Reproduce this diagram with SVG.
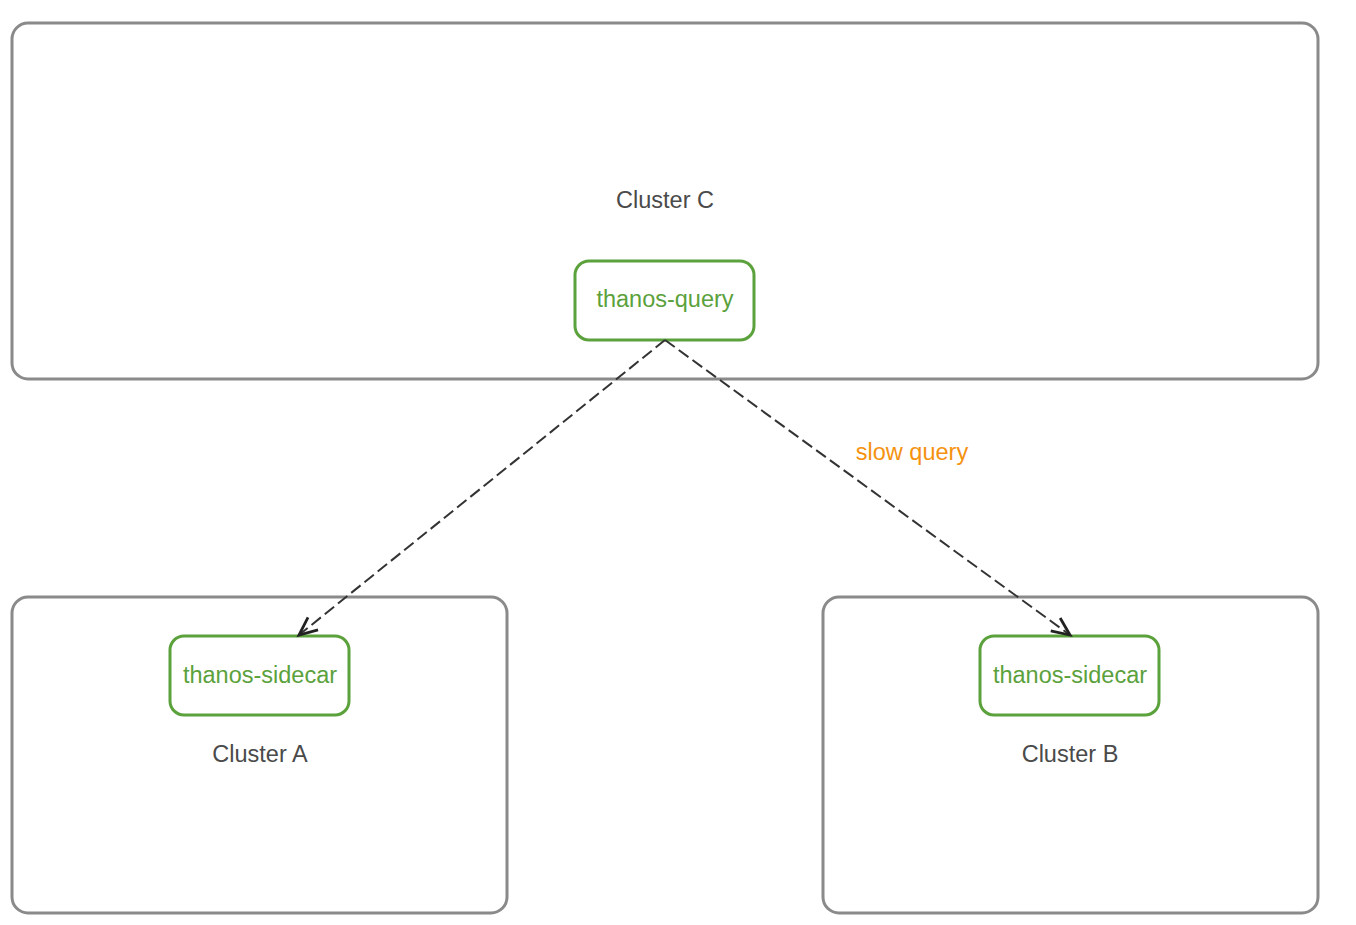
<svg xmlns="http://www.w3.org/2000/svg" width="1356" height="925" viewBox="0 0 1356 925">
<style>
.cluster{fill:#fff;stroke:#8a8a8a;stroke-width:3}
.svc{fill:#fff;stroke:#5ba13c;stroke-width:3}
.lbl{font-family:"Liberation Sans",Arial,sans-serif;font-size:23.5px;fill:#4a4a4a;text-anchor:middle}
.svct{font-family:"Liberation Sans",Arial,sans-serif;font-size:23.5px;fill:#5ba13c;text-anchor:middle}
.edge{fill:none;stroke:#333;stroke-width:2;stroke-dasharray:12 5}
.elbl{font-family:"Liberation Sans",Arial,sans-serif;font-size:23.5px;fill:#f5920f;text-anchor:middle}
</style>
<defs>
<marker id="arr" viewBox="0 0 24 24" refX="21" refY="12" markerWidth="24" markerHeight="24" markerUnits="userSpaceOnUse" orient="auto">
<path d="M3,4 L21,12 L3,20" fill="none" stroke="#222" stroke-width="2.8"/>
</marker>
</defs>
<rect width="1356" height="925" fill="#fff"/>
<g id="clusterC">
<rect class="cluster" x="12" y="23" width="1306" height="356" rx="16"/>
<text class="lbl" x="665" y="208">Cluster C</text>
</g>
<g id="clusterA">
<rect class="cluster" x="12" y="597" width="495" height="316" rx="16"/>
<text class="lbl" x="260" y="762">Cluster A</text>
</g>
<g id="clusterB">
<rect class="cluster" x="823" y="597" width="495" height="316" rx="16"/>
<text class="lbl" x="1070" y="762">Cluster B</text>
</g>
<g id="thanos-query">
<rect class="svc" x="575" y="261" width="179" height="79" rx="14"/>
<text class="svct" x="665" y="307">thanos-query</text>
</g>
<g id="sidecarA">
<rect class="svc" x="170" y="636" width="179" height="79" rx="14"/>
<text class="svct" x="260" y="683">thanos-sidecar</text>
</g>
<g id="sidecarB">
<rect class="svc" x="980" y="636" width="179" height="79" rx="14"/>
<text class="svct" x="1070" y="683">thanos-sidecar</text>
</g>
<g id="connectors">
<path class="edge" d="M665,340 L299,635" marker-end="url(#arr)"/>
<path class="edge" d="M665,340 L1070,635" marker-end="url(#arr)"/>
<text class="elbl" x="912" y="460">slow query</text>
</g>
</svg>
